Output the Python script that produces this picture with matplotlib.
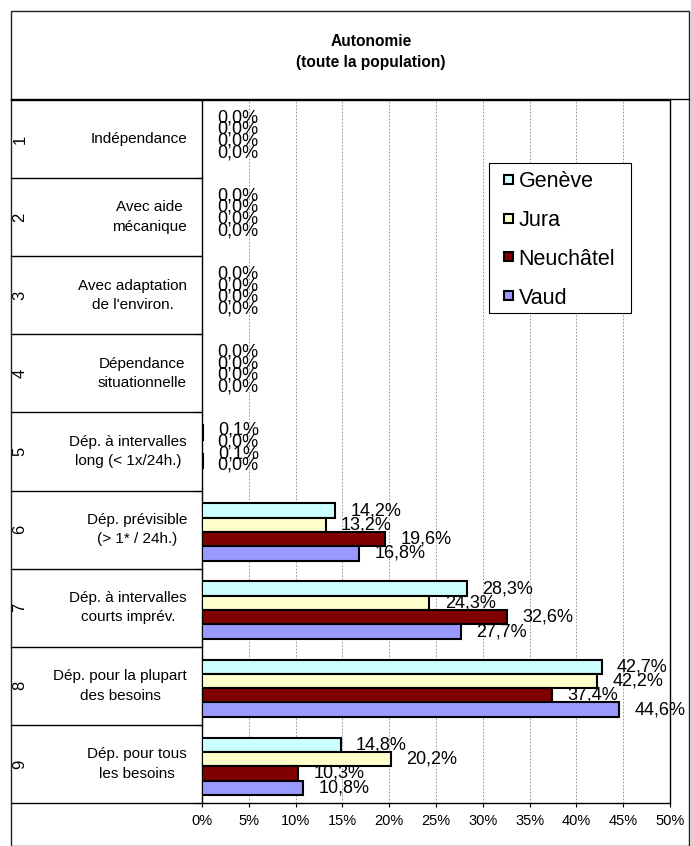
import matplotlib.pyplot as plt
from matplotlib.lines import Line2D
from matplotlib.patches import Rectangle

plt.rcParams['font.family'] = ['Liberation Sans', 'DejaVu Sans']

codes = ['1', '2', '3', '4', '5', '6', '7', '8', '9']
categories = [
    'Indépendance',
    'Avec aide\nmécanique',
    'Avec adaptation\nde l\'environ.',
    'Dépendance\nsituationnelle',
    'Dép. à intervalles\nlong (< 1x/24h.)',
    'Dép. prévisible\n(> 1* / 24h.)',
    'Dép. à intervalles\ncourts imprév.',
    'Dép. pour la plupart\ndes besoins',
    'Dép. pour tous\nles besoins',
]
cantons = ['Genève', 'Jura', 'Neuchâtel', 'Vaud']
geneve = [0.0, 0.0, 0.0, 0.0, 0.1, 14.2, 28.3, 42.7, 14.8]
jura = [0.0, 0.0, 0.0, 0.0, 0.0, 13.2, 24.3, 42.2, 20.2]
neuchatel = [0.0, 0.0, 0.0, 0.0, 0.1, 19.6, 32.6, 37.4, 10.3]
vaud = [0.0, 0.0, 0.0, 0.0, 0.0, 16.8, 27.7, 44.6, 10.8]
series = [geneve, jura, neuchatel, vaud]
colors = ['#CCFFFF', '#FFFFCC', '#800000', '#9999FF']
xticks = [0, 5, 10, 15, 20, 25, 30, 35, 40, 45, 50]

W, H = 691, 846
fig = plt.figure(figsize=(W / 100, H / 100), dpi=100)

# plot area in pixel terms
x0, x1, y0, y1 = 202, 670, 100, 803
ax = fig.add_axes([x0 / W, 1 - y1 / H, (x1 - x0) / W, (y1 - y0) / H])

n = len(categories)
bar_h = 0.183
for i, (vals, col, name) in enumerate(zip(series, colors, cantons)):
    ys = [k + 0.03 + (i - 1.5) * bar_h for k in range(n)]
    lw = [1.5 if v > 0 else 0 for v in vals]
    ax.barh(ys, vals, height=bar_h, color=col, edgecolor='black',
            linewidth=lw, label=name, zorder=3)
    for k, (y, v) in enumerate(zip(ys, vals)):
        # labels of near-empty groups sit closer together
        if max(s[k] for s in series) < 1:
            y = k + 0.03 - 1.5 * bar_h - 0.03 + i * bar_h * 0.82
        ax.annotate(f'{v:.1f}%'.replace('.', ','), (v, y),
                    xytext=(11, 0), textcoords='offset points',
                    ha='left', va='center', fontsize=13, zorder=4)

ax.set_xlim(0, 50)
ax.set_ylim(n - 0.5, -0.5)
ax.set_xticks(xticks)
ax.set_xticklabels([f'{t}%' for t in xticks], fontsize=10.5)
ax.tick_params(axis='x', length=3, width=0.8, pad=5)
ax.set_yticks([k - 0.5 for k in range(n + 1)])
ax.set_yticklabels([])
ax.tick_params(axis='y', length=4, width=0.8)
ax.grid(axis='x', linestyle=(0, (2, 2)), color='#888888', linewidth=0.6, zorder=0)
for s in ax.spines.values():
    s.set_linewidth(1.0)

# table on the left: row lines, codes and labels
tr = ax.get_yaxis_transform()
left = (11 - x0) / (x1 - x0)
for k in range(n + 1):
    ax.add_line(Line2D([left, 0], [k - 0.5, k - 0.5], transform=tr,
                       color='black', linewidth=1.0, clip_on=False))
for k, (code, lab) in enumerate(zip(codes, categories)):
    ax.text((20 - x0) / (x1 - x0), k, code, transform=tr, rotation=90,
            ha='center', va='center', fontsize=12)
    ax.text((187 - x0) / (x1 - x0), k, lab, transform=tr, ha='right',
            va='center', multialignment='center', fontsize=11, linespacing=1.5)

# outer frame and title band
fig.add_artist(Rectangle((11 / W, 0), 678 / W, 1 - 11 / H, transform=fig.transFigure,
                         fill=False, edgecolor='#222222', linewidth=1.0))
fig.add_artist(Line2D([11 / W, 689 / W], [1 - 99 / H, 1 - 99 / H],
                      transform=fig.transFigure, color='black', linewidth=1.0))
fig.text(371 / W, 1 - 52 / H, 'Autonomie\n(toute la population)', ha='center',
         va='center', fontsize=11.2, fontweight='bold', linespacing=1.45)

# legend box, then the entries on top of it
fig.add_artist(Rectangle((489 / W, 1 - 313 / H), 142 / W, 150 / H,
                         transform=fig.transFigure, facecolor='white',
                         edgecolor='black', linewidth=0.8, zorder=2))
handles, names = ax.get_legend_handles_labels()
leg = fig.legend(handles, names, loc='upper left',
                 bbox_to_anchor=(504 / W, 1 - 171 / H),
                 bbox_transform=fig.transFigure, fontsize=15.5, frameon=False,
                 handlelength=0.42, handleheight=0.27, handletextpad=0.25,
                 labelspacing=0.83, borderpad=0, borderaxespad=0)
leg.set_zorder(5)
for p in leg.get_patches():
    p.set_linewidth(1.5)

fig.savefig('out.png', dpi=100)
